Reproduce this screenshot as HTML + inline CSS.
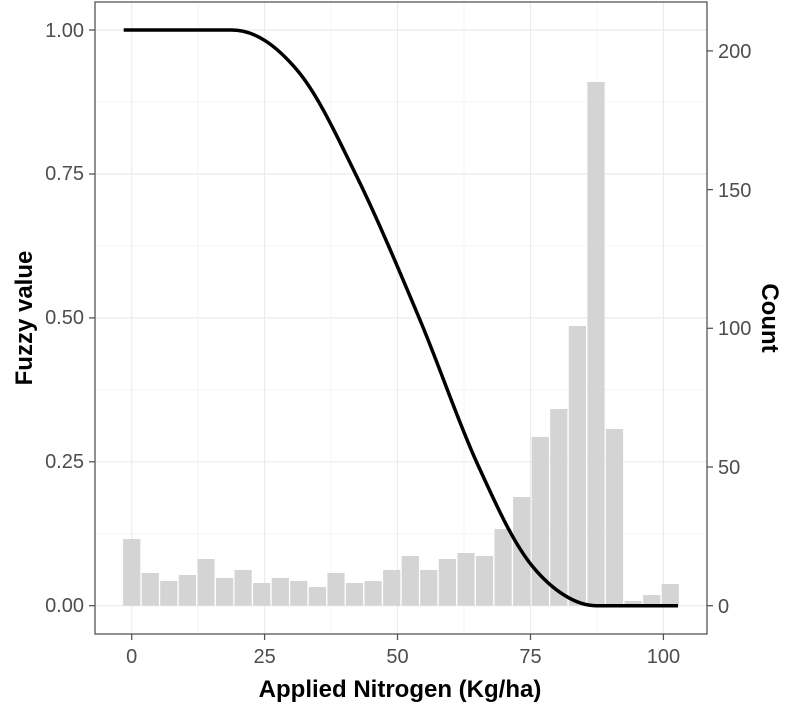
<!DOCTYPE html>
<html><head><meta charset="utf-8"><style>body{margin:0;background:#fff}svg{display:block}</style></head>
<body>
<svg width="789" height="705" xmlns="http://www.w3.org/2000/svg" font-family="Liberation Sans, Arial, sans-serif">
<g stroke="#ebebeb" stroke-width="1.2">
<line x1="95" x2="707" y1="605.7" y2="605.7"/><line x1="95" x2="707" y1="461.8" y2="461.8"/><line x1="95" x2="707" y1="317.9" y2="317.9"/><line x1="95" x2="707" y1="174" y2="174"/><line x1="95" x2="707" y1="30" y2="30"/>
<line x1="131.7" x2="131.7" y1="2" y2="634"/><line x1="264.6" x2="264.6" y1="2" y2="634"/><line x1="397.5" x2="397.5" y1="2" y2="634"/><line x1="530.5" x2="530.5" y1="2" y2="634"/><line x1="663.4" x2="663.4" y1="2" y2="634"/>
</g>
<g stroke="#f4f4f4" stroke-width="1">
<line x1="95" x2="707" y1="533.7" y2="533.7"/><line x1="95" x2="707" y1="389.8" y2="389.8"/><line x1="95" x2="707" y1="246" y2="246"/><line x1="95" x2="707" y1="102" y2="102"/>
<line x1="198.1" x2="198.1" y1="2" y2="634"/><line x1="331" x2="331" y1="2" y2="634"/><line x1="464" x2="464" y1="2" y2="634"/><line x1="597" x2="597" y1="2" y2="634"/>
</g>
<g fill="#d4d4d4">
<rect x="123.1" y="539" width="17.2" height="66.7"/>
<rect x="141.7" y="573" width="17.2" height="32.7"/>
<rect x="160.2" y="581" width="17.2" height="24.7"/>
<rect x="178.8" y="575" width="17.2" height="30.7"/>
<rect x="197.4" y="559" width="17.2" height="46.7"/>
<rect x="216.0" y="578" width="17.2" height="27.7"/>
<rect x="234.5" y="570" width="17.2" height="35.7"/>
<rect x="253.1" y="583" width="17.2" height="22.7"/>
<rect x="271.7" y="578" width="17.2" height="27.7"/>
<rect x="290.2" y="581" width="17.2" height="24.7"/>
<rect x="308.8" y="587" width="17.2" height="18.7"/>
<rect x="327.4" y="573" width="17.2" height="32.7"/>
<rect x="345.9" y="583" width="17.2" height="22.7"/>
<rect x="364.5" y="581" width="17.2" height="24.7"/>
<rect x="383.1" y="570" width="17.2" height="35.7"/>
<rect x="401.7" y="556" width="17.2" height="49.7"/>
<rect x="420.2" y="570" width="17.2" height="35.7"/>
<rect x="438.8" y="559" width="17.2" height="46.7"/>
<rect x="457.4" y="553" width="17.2" height="52.7"/>
<rect x="475.9" y="556" width="17.2" height="49.7"/>
<rect x="494.5" y="529" width="17.2" height="76.7"/>
<rect x="513.1" y="497" width="17.2" height="108.7"/>
<rect x="531.7" y="437" width="17.2" height="168.7"/>
<rect x="550.2" y="409" width="17.2" height="196.7"/>
<rect x="568.8" y="326" width="17.2" height="279.7"/>
<rect x="587.4" y="82" width="17.2" height="523.7"/>
<rect x="605.9" y="429" width="17.2" height="176.7"/>
<rect x="624.5" y="601" width="17.2" height="4.7"/>
<rect x="643.1" y="595" width="17.2" height="10.7"/>
<rect x="661.7" y="584" width="17.2" height="21.7"/>
</g>
<path fill="none" stroke="#000" stroke-width="3.5" stroke-linejoin="round" d="M123.7,30 L232,30 C255,30 276.2,45.5 297,70 C317.8,94.5 336.5,135.3 357,177 C377.5,218.7 400,272.3 420,320 C440,367.7 458.2,421.8 477,463 C495.8,504.2 513.2,543.2 533,567 C552.8,590.8 576,605.7 596,605.7 L678,605.7"/>
<rect x="95" y="2" width="612" height="632" fill="none" stroke="#555" stroke-width="1.3"/>
<g stroke="#555" stroke-width="1.3">
<line x1="89" x2="95" y1="605.7" y2="605.7"/><line x1="89" x2="95" y1="461.8" y2="461.8"/><line x1="89" x2="95" y1="317.9" y2="317.9"/><line x1="89" x2="95" y1="174" y2="174"/><line x1="89" x2="95" y1="30" y2="30"/>
<line x1="707" x2="713" y1="605.7" y2="605.7"/><line x1="707" x2="713" y1="467" y2="467"/><line x1="707" x2="713" y1="328.3" y2="328.3"/><line x1="707" x2="713" y1="189.6" y2="189.6"/><line x1="707" x2="713" y1="50.9" y2="50.9"/>
<line x1="131.7" x2="131.7" y1="634" y2="640"/><line x1="264.6" x2="264.6" y1="634" y2="640"/><line x1="397.5" x2="397.5" y1="634" y2="640"/><line x1="530.5" x2="530.5" y1="634" y2="640"/><line x1="663.4" x2="663.4" y1="634" y2="640"/>
</g>
<g fill="#4d4d4d" font-size="20" text-anchor="end">
<text x="84" y="612">0.00</text><text x="84" y="468">0.25</text><text x="84" y="324">0.50</text><text x="84" y="180">0.75</text><text x="84" y="37">1.00</text>
</g>
<g fill="#4d4d4d" font-size="20" text-anchor="start">
<text x="718" y="613">0</text><text x="718" y="474">50</text><text x="718" y="335">100</text><text x="718" y="197">150</text><text x="718" y="58">200</text>
</g>
<g fill="#4d4d4d" font-size="20" text-anchor="middle">
<text x="131.7" y="663">0</text><text x="264.6" y="663">25</text><text x="397.5" y="663">50</text><text x="530.5" y="663">75</text><text x="663.4" y="663">100</text>
</g>
<text x="400" y="697" font-size="24" font-weight="bold" text-anchor="middle">Applied Nitrogen (Kg/ha)</text>
<text transform="translate(32,318) rotate(-90)" font-size="24" font-weight="bold" text-anchor="middle">Fuzzy value</text>
<text transform="translate(762,318) rotate(90)" font-size="24" font-weight="bold" text-anchor="middle">Count</text>
</svg>
</body></html>
